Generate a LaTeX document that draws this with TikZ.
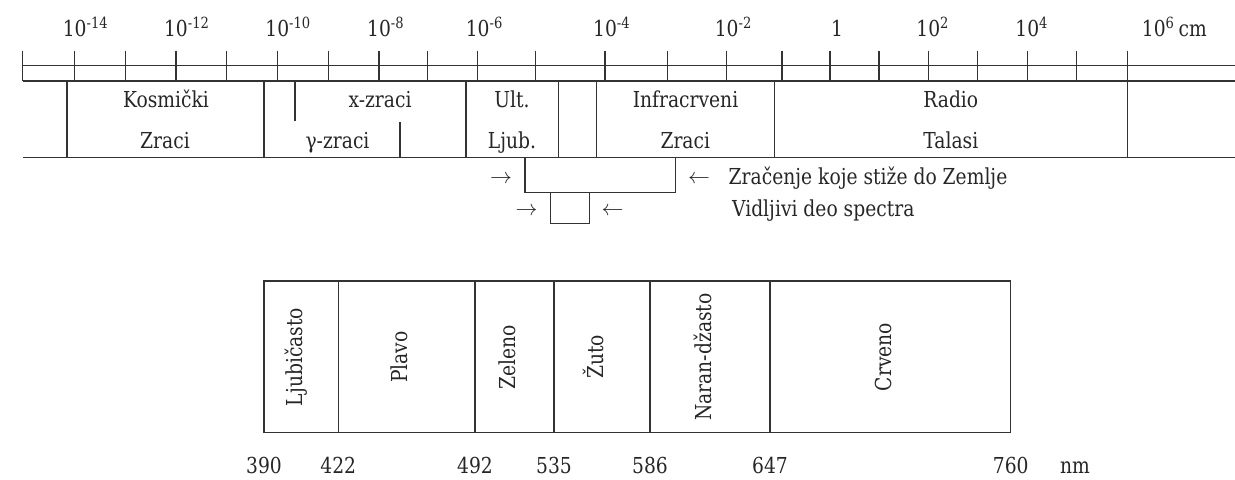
\documentclass[tikz,border=0pt]{standalone}
\usepackage{fontspec}
\setmainfont{DejaVu Serif}[FakeStretch=0.85]
\begin{document}
\begin{tikzpicture}[x=0.5pt,y=-0.5pt,
  rule/.style={draw=black!80,line width=0.65pt},
  lbl/.style={anchor=base,inner sep=0pt,text=black!85,font=\fontsize{11}{13}\selectfont},
  lblw/.style={anchor=base west,inner sep=0pt,text=black!85,font=\fontsize{11}{13}\selectfont},
  vert/.style={rotate=90,anchor=base,inner sep=0pt,text=black!85,font=\fontsize{11}{13}\selectfont}]
\useasboundingbox (0,0) rectangle (1235,479);

% scale lines
\draw[rule] (22.7,65.3) -- (1235,65.3);
\draw[rule] (22.7,81) -- (1235,81);
\draw[rule] (22.7,157.7) -- (1235,157.7);
\foreach \x in {22.7,74.7,125.7,176,226.7,277.3,328.3,379,427.3,477.7,535.7,605,667.3,726.7,782,830,879,928.3,977.7,1027.3,1076.7}
  \draw[rule] (\x,50.7) -- (\x,81);
\draw[rule] (1127.3,50.7) -- (1127.3,157.7);
\foreach \x in {67,264,466,558.7,596.7,774.3}
  \draw[rule] (\x,81) -- (\x,157.7);
\draw[rule] (295,81) -- (295,121);
\draw[rule] (400,122) -- (400,157.7);

% scale labels
\node[lbl] (e14) at (74.7,36.7) {10\rlap{\textsuperscript{-14}}};
\node[lbl] (e12) at (176,36.7) {10\rlap{\textsuperscript{-12}}};
\node[lbl] (e10) at (277.3,36.7) {10\rlap{\textsuperscript{-10}}};
\node[lbl] (e8) at (379,36.7) {10\rlap{\textsuperscript{-8}}};
\node[lbl] (e6) at (477.7,36.7) {10\rlap{\textsuperscript{-6}}};
\node[lbl] (e4) at (605,36.7) {10\rlap{\textsuperscript{-4}}};
\node[lbl] (e2) at (726.7,36.7) {10\rlap{\textsuperscript{-2}}};
\node[lbl] (e0) at (837,36.7) {1};
\node[lbl] (p2) at (928.3,36.7) {10\rlap{\textsuperscript{2}}};
\node[lbl] (p4) at (1027.3,36.7) {10\rlap{\textsuperscript{4}}};
\node[lblw] (p6) at (1141.5,36.7) {10\textsuperscript{6}\,cm};

% band labels
\node[lbl] (kos) at (166,107) {Kosmički};
\node[lbl] (kos2) at (165,148) {Zraci};
\node[lbl] (xz) at (380,107) {x-zraci};
\node[lbl] (gz) at (337.5,148) {γ-zraci};
\node[lbl] (ult) at (512,107) {Ult.};
\node[lbl] (ljb) at (512,148) {Ljub.};
\node[lbl] (inf) at (685.5,107) {Infracrveni};
\node[lbl] (inf2) at (685.3,148) {Zraci};
\node[lbl] (rad) at (950.8,107) {Radio};
\node[lbl] (tal) at (950.8,148) {Talasi};

% brackets
\draw[rule] (525,157.7) -- (525,192.3) -- (675.7,192.3) -- (675.7,157.7);
\draw[rule] (550.7,192.3) -- (550.7,223.3) -- (589.3,223.3) -- (589.3,192.3);
\node[lbl] (a1) at (501,183) {$\rightarrow$};
\node[lbl] (a2) at (699,183) {$\leftarrow$};
\node[lbl] (a3) at (526.5,215.5) {$\rightarrow$};
\node[lbl] (a4) at (612.5,215.5) {$\leftarrow$};
\node[lblw] (zem) at (728.3,184.3) {Zračenje koje stiže do Zemlje};
\node[lblw] (vid) at (731.7,216.7) {Vidljivi deo spectra};

% visible spectrum
\draw[rule] (264,281) rectangle (1010.7,432.7);
\foreach \x in {338.3,475,554,650,770}
  \draw[rule] (\x,281) -- (\x,432.7);
\node[vert] (c1) at (302,357) {Ljubičasto};
\node[vert] (c2) at (407.6,357) {Plavo};
\node[vert] (c3) at (515.5,357) {Zeleno};
\node[vert] (c4) at (603,357) {Žuto};
\node[vert] (c5) at (711,357) {Naran-džasto};
\node[vert] (c6) at (891.3,357) {Crveno};

\node[lbl] (n1) at (264,473) {390};
\node[lbl] (n2) at (338.3,473) {422};
\node[lbl] (n3) at (475,473) {492};
\node[lbl] (n4) at (554,473) {535};
\node[lbl] (n5) at (650,473) {586};
\node[lbl] (n6) at (770,473) {647};
\node[lbl] (n7) at (1010.7,473) {760};
\node[lbl] (nm) at (1075,473) {nm};
\end{tikzpicture}
\end{document}
